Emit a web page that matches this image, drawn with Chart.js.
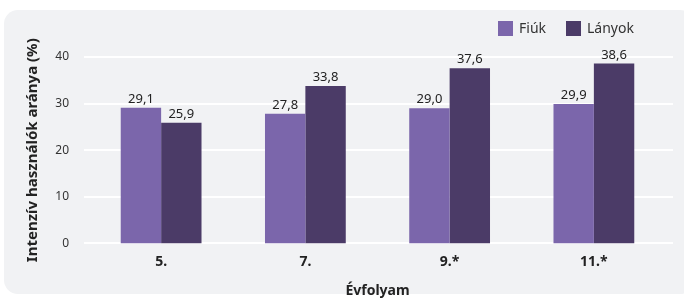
<!DOCTYPE html>
<html>
<head>
<meta charset="utf-8">
<script src="https://cdn.jsdelivr.net/npm/chart.js@4"></script>
<style>
  html, body { margin: 0; padding: 0; background: #fff; }
  #wrap { position: relative; width: 684px; height: 302px; }
  #panel { position: absolute; left: 4px; top: 10px; width: 690px; height: 284px; background: #f1f2f4; border-radius: 14px; }
  canvas { position: absolute; left: 0; top: 0; }
</style>
</head>
<body>
<div id="wrap">
  <div id="panel"></div>
  <canvas id="c" width="684" height="302"></canvas>
</div>
<script>
const categories = ["5.", "7.", "9.*", "11.*"];
const fiuk = [29.1, 27.8, 29.0, 29.9];
const lanyok = [25.9, 33.8, 37.6, 38.6];
const seriesNames = ["Fiúk", "Lányok"];
const colors = ["#7b66ab", "#4b3b67"];
const FONT = "'Noto Sans', 'Open Sans', sans-serif";

const fmt = (v) => v.toFixed(1).replace(".", ",");

// rácsvonalak: kicsit szélesebbek a rajzterületnél
const gridLines = {
  id: "gridLines",
  beforeDatasetsDraw(chart) {
    const ctx = chart.ctx, y = chart.scales.y;
    ctx.save();
    ctx.strokeStyle = "#ffffff";
    ctx.lineWidth = 2;
    y.ticks.forEach(t => {
      const py = Math.round(y.getPixelForValue(t.value));
      ctx.beginPath();
      ctx.moveTo(84, py);
      ctx.lineTo(673, py);
      ctx.stroke();
    });
    ctx.restore();
  }
};

// értékcímkék az oszlopok fölött
const valueLabels = {
  id: "valueLabels",
  afterDatasetsDraw(chart) {
    const ctx = chart.ctx;
    ctx.save();
    ctx.font = "13px " + FONT;
    ctx.fillStyle = "#222";
    ctx.textAlign = "center";
    ctx.textBaseline = "bottom";
    chart.data.datasets.forEach((ds, i) => {
      chart.getDatasetMeta(i).data.forEach((bar, j) => {
        ctx.fillText(fmt(ds.data[j]), bar.x, bar.y - 2);
      });
    });
    ctx.restore();
  }
};

// jelmagyarázat jobb felül
const legendBox = {
  id: "legendBox",
  afterDraw(chart) {
    const ctx = chart.ctx;
    ctx.save();
    ctx.font = "14px " + FONT;
    ctx.textBaseline = "middle";
    ctx.textAlign = "left";
    const xs = [498, 566];
    seriesNames.forEach((n, i) => {
      ctx.fillStyle = colors[i];
      ctx.fillRect(xs[i], 21, 15, 15);
      ctx.fillStyle = "#333";
      ctx.fillText(n, xs[i] + 21, 29);
    });
    ctx.restore();
  }
};

new Chart(document.getElementById("c"), {
  type: "bar",
  data: {
    labels: categories,
    datasets: [
      { label: seriesNames[0], data: fiuk, backgroundColor: colors[0] },
      { label: seriesNames[1], data: lanyok, backgroundColor: colors[1] }
    ]
  },
  options: {
    responsive: false,
    animation: false,
    layout: { padding: { top: 57, left: 21, right: 18, bottom: 3 } },
    datasets: { bar: { categoryPercentage: 0.56, barPercentage: 1 } },
    plugins: { legend: { display: false }, tooltip: { enabled: false } },
    scales: {
      x: {
        grid: { display: false },
        border: { display: false },
        ticks: { color: "#222", font: { family: FONT, size: 14, weight: "bold" }, padding: 2 },
        title: { display: true, text: "Évfolyam", color: "#222", font: { family: FONT, size: 14, weight: "bold" }, padding: { top: 10, bottom: 0 } }
      },
      y: {
        min: 0, max: 40,
        afterFit: (s) => { s.width = 68; },
        grid: { display: false },
        border: { display: false },
        ticks: { stepSize: 10, color: "#333", font: { family: FONT, size: 12 }, padding: 12 },
        title: { display: true, text: "Intenzív használók aránya (%)", color: "#222", font: { family: FONT, size: 15, weight: "bold" }, padding: { top: 3, bottom: 0 } }
      }
    }
  },
  plugins: [gridLines, valueLabels, legendBox]
});
</script>
</body>
</html>
